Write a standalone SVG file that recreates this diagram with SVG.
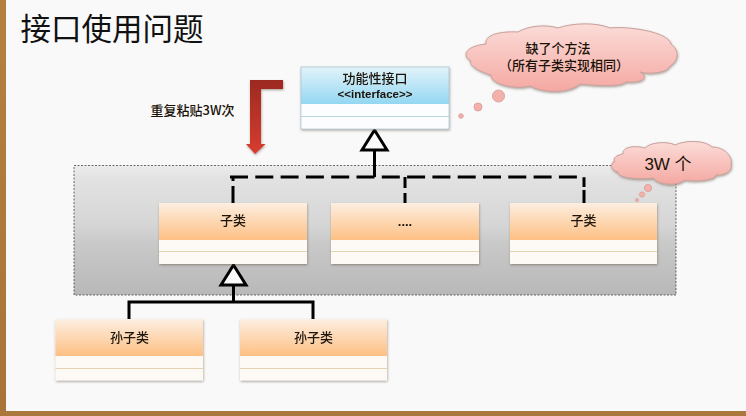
<svg xmlns="http://www.w3.org/2000/svg" width="746" height="416" viewBox="0 0 746 416">
<style>
text{font-family:"Liberation Sans","Noto Sans CJK SC",sans-serif;fill:#1a1208;text-anchor:middle}
.cn{font-family:"Noto Sans CJK SC",sans-serif;font-weight:500;font-size:13px}
.body{fill:#fdfaf6;stroke:none}
.hdr{fill:url(#orange)}
.sep{stroke:#e6d2b0;stroke-width:1}
.edge{fill:none;stroke:#000;stroke-width:3}
.dash{fill:none;stroke:#000;stroke-width:3;stroke-dasharray:18 7.300}
.tri{fill:#fafafa;stroke:#000;stroke-width:3;stroke-linejoin:miter}
.cloud{fill:url(#pink);stroke:#c9a09a;stroke-width:1;filter:url(#soft)}
.bub{fill:#f4b0aa;stroke:#dfa49e;stroke-width:1}
.box{filter:url(#soft)}
</style>
<defs>
<linearGradient id="orange" x1="0" y1="0" x2="0" y2="1"><stop offset="0" stop-color="#fdeee0"/><stop offset="1" stop-color="#fdc084"/></linearGradient>
<linearGradient id="blue" x1="0" y1="0" x2="0" y2="1"><stop offset="0" stop-color="#e2f3f9"/><stop offset="1" stop-color="#93d7f2"/></linearGradient>
<linearGradient id="gray" x1="0" y1="0" x2="0" y2="1"><stop offset="0" stop-color="#ececec"/><stop offset="0.1" stop-color="#e2e2e2"/><stop offset="0.45" stop-color="#d6d6d6"/><stop offset="0.6" stop-color="#c9c9c9"/><stop offset="1" stop-color="#b8b8b8"/></linearGradient>
<linearGradient id="pink" x1="0" y1="0" x2="0" y2="1"><stop offset="0" stop-color="#fbdcd8"/><stop offset="1" stop-color="#f5a8a2"/></linearGradient>
<linearGradient id="red" x1="0" y1="0" x2="0" y2="1"><stop offset="0" stop-color="#9c2a20"/><stop offset="1" stop-color="#d83c30"/></linearGradient>
<linearGradient id="wood" x1="0" y1="0" x2="0" y2="1"><stop offset="0" stop-color="#b5803f"/><stop offset="1" stop-color="#a8743a"/></linearGradient>
<filter id="soft" x="-10%" y="-10%" width="120%" height="125%"><feDropShadow dx="0.5" dy="1.2" stdDeviation="0.9" flood-color="#5a4a3a" flood-opacity="0.5"/></filter>
</defs>
<rect width="746" height="416" fill="#f9f9f9"/>
<rect x="0" y="0" width="6" height="416" fill="url(#wood)"/>
<rect x="0" y="411" width="746" height="5" fill="#ab773b"/>
<text x="112" y="40" style="font-family:'Noto Sans CJK SC',sans-serif;font-size:30.500px;font-weight:400;fill:#111">接口使用问题</text>

<g id="group-box"><rect x="74" y="165.500" width="602" height="129.500" fill="url(#gray)" stroke="#444" stroke-width="0.8" stroke-dasharray="2 1.500"/></g>

<g id="paste-arrow"><path d="M250 80H283V89H261V144H265.500L255 154L246 144H250Z" fill="url(#red)" filter="url(#soft)"/></g>
<g id="paste-label"><text class="cn" x="192.500" y="115">重复粘贴3W次</text></g>

<g id="connectors">
<path class="dash" d="M230 177H584V187"/>
<path class="edge" d="M233 177V181M233 186V203M405 177V188M405 193V203M584 190V203"/>
<path class="edge" d="M374.500 150V177"/>
<path class="tri" d="M374.500 130L387 150H362Z"/>
<path class="edge" d="M129 319V302H313V319M233.500 285V302"/>
<path class="tri" d="M233.500 265L246 285H221Z"/>
</g>

<g id="interface" class="box">
<rect x="301" y="67" width="148" height="62" fill="#fcfdfe"/>
<rect x="301" y="67" width="148" height="37" fill="url(#blue)"/>
<line x1="301" y1="116.500" x2="449" y2="116.500" stroke="#bcd8e4"/>
<rect x="301" y="67" width="148" height="62" fill="none" stroke="#a8c4d0" stroke-width="0.7"/>
<text class="cn" x="375" y="83">功能性接口</text>
<text x="375" y="98" style="font-size:11.500px;font-weight:700;font-family:'Liberation Sans',sans-serif">&lt;&lt;interface&gt;&gt;</text>
</g>

<g id="sub1" class="box"><rect class="body" x="159" y="203" width="148" height="61"/><rect class="hdr" x="159" y="203" width="148" height="37"/><line class="sep" x1="159" y1="251.500" x2="307" y2="251.500"/><text class="cn" x="233" y="225">子类</text></g>
<g id="sub2" class="box"><rect class="body" x="331" y="203" width="148" height="61"/><rect class="hdr" x="331" y="203" width="148" height="37"/><line class="sep" x1="331" y1="251.500" x2="479" y2="251.500"/><text x="405" y="226" style="font-size:13px;font-weight:700">....</text></g>
<g id="sub3" class="box"><rect class="body" x="510" y="203" width="147" height="61"/><rect class="hdr" x="510" y="203" width="147" height="37"/><line class="sep" x1="510" y1="251.500" x2="657" y2="251.500"/><text class="cn" x="583.500" y="225">子类</text></g>
<g id="grand1" class="box"><rect class="body" x="55.500" y="319.500" width="147.500" height="61"/><rect class="hdr" x="55.500" y="319.500" width="147.500" height="36.500"/><line class="sep" x1="55.500" y1="368.500" x2="203" y2="368.500"/><text class="cn" x="129.500" y="342">孙子类</text></g>
<g id="grand2" class="box"><rect class="body" x="240" y="319.500" width="147" height="61"/><rect class="hdr" x="240" y="319.500" width="147" height="36.500"/><line class="sep" x1="240" y1="368.500" x2="387" y2="368.500"/><text class="cn" x="313.500" y="342">孙子类</text></g>

<g id="cloud-method">
<path class="cloud" d="M486 44C484 35 500 31 518 32C528 26 545 24 558 28C572 23 596 22 610 28C625 26 668 31 671 44C679 50 680 60 669 67C668 72 650 75 640 72C650 78 642 83 626 82C620 88 590 85 580 84C570 93 545 94 530 86C515 90 490 84 491 75C480 72 468 65 471 61C461 55 466 46 486 44Z"/>
<circle class="bub" cx="498.500" cy="96" r="6"/><circle class="bub" cx="478" cy="107" r="4"/><circle class="bub" cx="461" cy="116" r="2.300"/>
<text class="cn" x="558" y="53">缺了个方法</text>
<text class="cn" x="564" y="70">（所有子类实现相同）</text>
</g>
<g id="cloud-count">
<path class="cloud" d="M623 154C622 147 634 145 645 148C650 142 668 141 675 145C685 140 705 140 712 147C724 147 733 156 731 165C733 172 722 176 716 175C716 181 690 182 685 180C678 186 660 186 653 178C640 180 617 178 618 172C608 170 612 160 615 162C612 158 617 155 623 154Z"/>
<circle class="bub" cx="648" cy="188" r="3.600"/><circle class="bub" cx="642" cy="194.500" r="2.600"/><circle class="bub" cx="637" cy="200" r="1.500"/>
<text x="668" y="170" style="font-family:'Liberation Sans','Noto Sans CJK SC',sans-serif;font-size:17px">3W 个</text>
</g>
</svg>
